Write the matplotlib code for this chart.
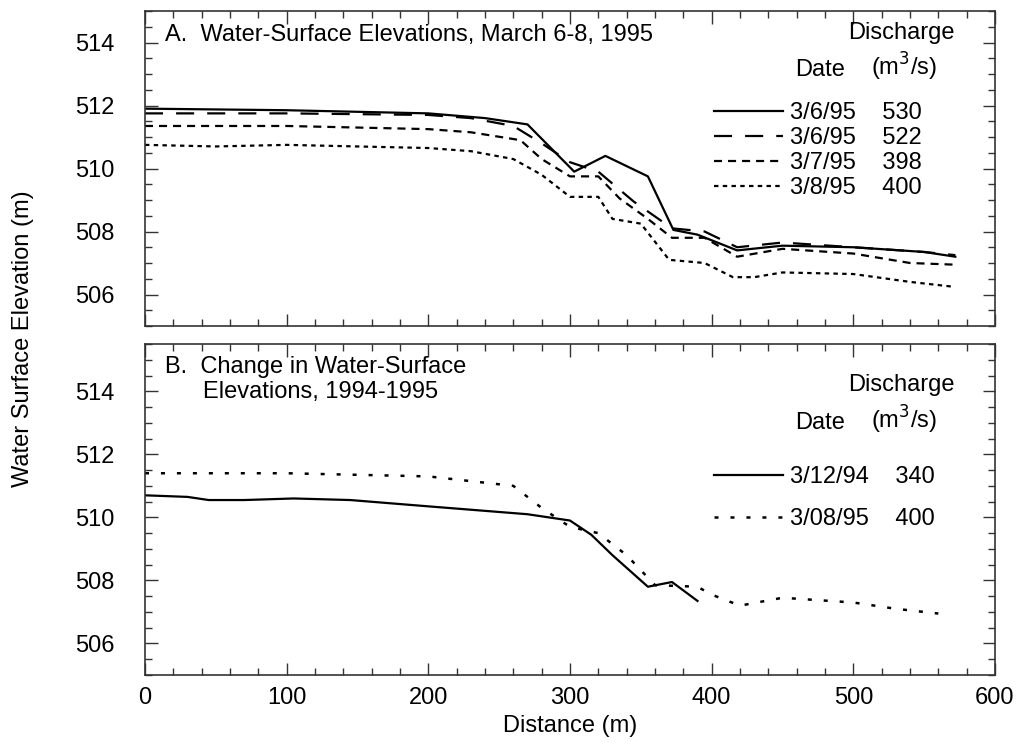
'''
water-surface elevation profiles, two panels
'''
import numpy as np
import matplotlib.pyplot as plt
from matplotlib.ticker import MultipleLocator

plt.rcParams['font.family'] = ['Liberation Sans', 'DejaVu Sans']
plt.rcParams['lines.scale_dashes'] = False

# panel A - March 6-8, 1995
dates_a = ['3/6/95', '3/6/95', '3/7/95', '3/8/95']
discharge_a = [530, 522, 398, 400]

x_530 = [0, 100, 200, 240, 270, 303, 325, 355, 373, 390, 418, 450, 500, 550, 572]
y_530 = [511.9, 511.85, 511.75, 511.6, 511.4, 509.9, 510.4, 509.75, 508.05, 507.9,
         507.4, 507.55, 507.5, 507.35, 507.2]

x_522 = [0, 100, 200, 230, 260, 280, 300, 320, 345, 372, 395, 418, 450, 500, 550, 572]
y_522 = [511.75, 511.75, 511.7, 511.6, 511.35, 510.8, 510.2, 509.9, 508.95, 508.1,
         508.0, 507.5, 507.65, 507.5, 507.35, 507.25]

x_398 = [0, 100, 150, 200, 230, 265, 280, 300, 320, 335, 355, 372, 395, 418, 450,
         500, 540, 570]
y_398 = [511.35, 511.35, 511.3, 511.25, 511.15, 510.9, 510.3, 509.75, 509.75, 509.05,
         508.4, 507.8, 507.8, 507.2, 507.45, 507.3, 507.0, 506.95]

x_400 = [0, 50, 100, 150, 200, 230, 260, 280, 300, 320, 330, 350, 370, 395, 415, 430,
         450, 500, 540, 570]
y_400 = [510.75, 510.7, 510.75, 510.7, 510.65, 510.55, 510.3, 509.8, 509.1, 509.1,
         508.4, 508.25, 507.1, 507.0, 506.55, 506.55, 506.7, 506.65, 506.4, 506.25]

# panel B - change 1994-1995
dates_b = ['3/12/94', '3/08/95']
discharge_b = [340, 400]

x_94 = [0, 30, 45, 70, 105, 145, 200, 270, 300, 315, 330, 355, 372, 390]
y_94 = [510.7, 510.65, 510.55, 510.55, 510.6, 510.55, 510.35, 510.1, 509.9, 509.45,
        508.8, 507.8, 507.95, 507.35]

x_95 = [0, 100, 200, 260, 280, 300, 320, 340, 360, 390, 400, 420, 450, 500, 530, 560]
y_95 = [511.4, 511.4, 511.3, 511.0, 510.3, 509.7, 509.5, 508.8, 507.85, 507.8, 507.55,
        507.2, 507.45, 507.3, 507.1, 506.95]

FS = 17

def style_axis(ax, ytop):
    ax.set_xlim(0, 600)
    ax.set_ylim(505, ytop)
    ax.xaxis.set_major_locator(MultipleLocator(100))
    ax.xaxis.set_minor_locator(MultipleLocator(20))
    ax.yaxis.set_major_locator(MultipleLocator(2))
    ax.yaxis.set_minor_locator(MultipleLocator(0.5))
    ax.tick_params(which='both', direction='in', top=True, right=True, labelsize=FS,
                   width=1, color='#333333')
    ax.tick_params(which='major', length=9)
    ax.tick_params(which='minor', length=5)
    ax.tick_params(axis='y', which='major', pad=22)
    ax.tick_params(axis='x', which='major', pad=9)
    for sp in ax.spines.values():
        sp.set_linewidth(1.2)
        sp.set_color('#333333')

def add_legend(ax, dates, qs, ypos, yhead, ydate, spacing):
    labels = [f'{d}    {q}' for d, q in zip(dates, qs)]
    ax.legend(ax.get_lines(), labels, loc='upper left', bbox_to_anchor=(0.67, ypos),
              frameon=False, fontsize=FS, handlelength=2.9, handletextpad=0.3,
              labelspacing=spacing, borderpad=0, borderaxespad=0)
    ax.text(0.953, yhead, 'Discharge', transform=ax.transAxes, ha='right',
            va='center', fontsize=FS)
    ax.text(0.794, ydate, 'Date', transform=ax.transAxes, ha='center',
            va='center', fontsize=FS)
    ax.text(0.893, ydate + 0.009, '(m$^3$/s)', transform=ax.transAxes, ha='center',
            va='center', fontsize=FS)

fig = plt.figure(figsize=(10.18, 7.45), dpi=100)
ax1 = fig.add_axes([0.1424, 1 - 326 / 745, 0.835, 315 / 745])
ax2 = fig.add_axes([0.1424, 1 - 675 / 745, 0.835, 331 / 745])

ax1.plot(x_530, y_530, color='black', lw=1.6)
ax1.plot(x_522, y_522, color='black', lw=1.6, dashes=(13, 9.4))
ax1.plot(x_398, y_398, color='black', lw=1.6, dashes=(5.8, 4.3))
ax1.plot(x_400, y_400, color='black', lw=1.6, dashes=(3.2, 3.1))
style_axis(ax1, 515)
ax1.tick_params(labelbottom=False)
ax1.text(0.024, 0.924, 'A.  Water-Surface Elevations, March 6-8, 1995',
         transform=ax1.transAxes, ha='left', va='center', fontsize=FS)
add_legend(ax1, dates_a, discharge_a, 0.71, 0.93, 0.813, 0.12)

ax2.plot(x_94, y_94, color='black', lw=1.6)
ax2.plot(x_95, y_95, color='black', lw=1.8, dashes=(2.9, 8.6))
style_axis(ax2, 515.5)
ax2.text(0.024, 0.93, 'B.  Change in Water-Surface', transform=ax2.transAxes,
         ha='left', va='center', fontsize=FS)
ax2.text(0.068, 0.855, 'Elevations, 1994-1995', transform=ax2.transAxes,
         ha='left', va='center', fontsize=FS)
add_legend(ax2, dates_b, discharge_b, 0.632, 0.876, 0.762, 0.85)
ax2.set_xlabel('Distance (m)', fontsize=FS, labelpad=4)

fig.text(0.023, 0.545, 'Water Surface Elevation (m)', rotation=90, ha='center',
         va='center', fontsize=FS)

fig.savefig('out.png', dpi=100)
